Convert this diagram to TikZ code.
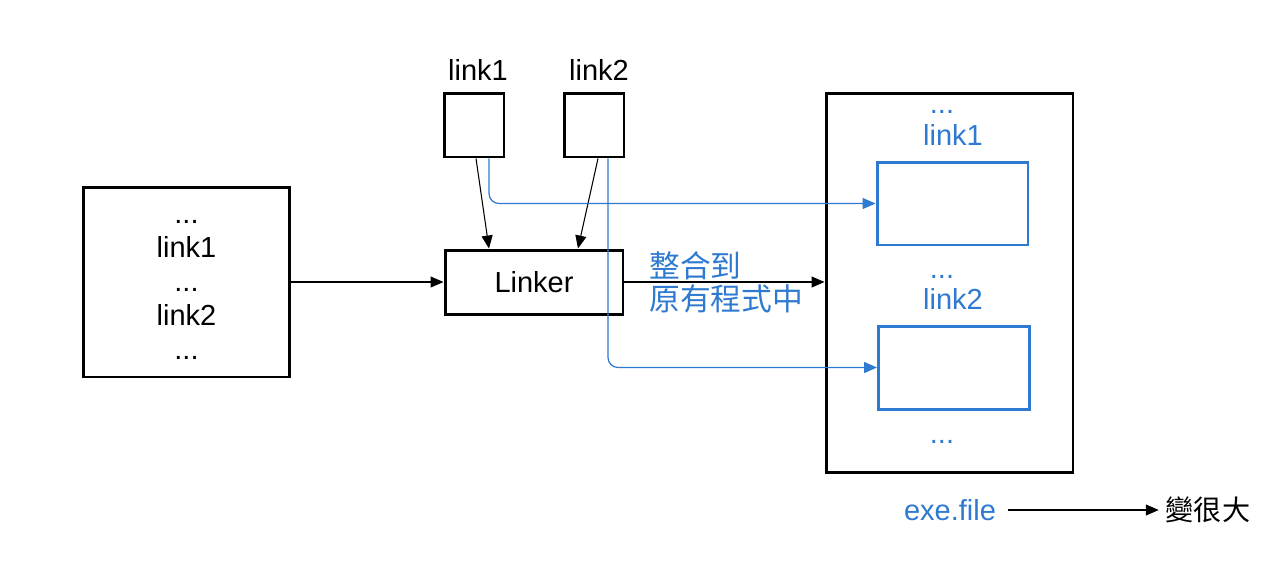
\documentclass[tikz,border=0pt]{standalone}
\usepackage{fontspec}
\setmainfont{Liberation Sans}
\newfontfamily\cjk{Noto Sans CJK TC}
\usepackage{tikz}
\usetikzlibrary{arrows.meta,positioning}
\definecolor{linkblue}{RGB}{46,122,208}
\tikzset{
  box/.style={draw, line width=1.7pt, inner sep=0pt},
  bluebox/.style={draw=linkblue, line width=1.7pt, minimum width=3.02cm, minimum height=1.66cm},
  txt/.style={font=\fontsize{16.5}{19.3}\selectfont, inner sep=1pt},
  bluetxt/.style={txt, text=linkblue},
  conn/.style={->, line width=0.6pt},
  blueconn/.style={->, linkblue, line width=0.7pt, rounded corners=0.2cm}
}
\begin{document}
\begin{tikzpicture}[x=0.02cm, y=-0.02cm, >={Triangle[length=0.26cm,width=0.22cm]}]
  \useasboundingbox (0,0) rectangle (1266,566);
  \node[box, minimum width=4.14cm, minimum height=3.8cm] (src) at (186.5,282) {};
  \node[txt, align=center] (srctxt) at (186.5,290) {...\\link1\\...\\link2\\...};
  \node[box, minimum width=1.2cm, minimum height=1.28cm] (L1) at (474,125) {};
  \node[box, minimum width=1.2cm, minimum height=1.28cm] (L2) at (594,125) {};
  \node[txt] (L1lbl) at (478,70) {link1};
  \node[txt] (L2lbl) at (599,70) {link2};
  \node[box, txt, minimum width=3.56cm, minimum height=1.28cm] (linker) at (534,282) {Linker};
  \node[box, minimum width=4.94cm, minimum height=7.6cm] (exe) at (949.5,283) {};
  \node[bluebox] (B1) at (952.5,203.5) {};
  \node[bluebox] (B2) at (954,367.5) {};
  \node[bluetxt] (d1) at (942,112) {...};
  \node[bluetxt] (n1) at (953,135) {link1};
  \node[bluetxt] (d2) at (942,277) {...};
  \node[bluetxt] (n2) at (953,299) {link2};
  \node[bluetxt] (d3) at (942,442) {...};
  \node[anchor=west, align=left, text=linkblue, inner sep=0pt,
    font=\cjk\fontsize{17.5}{18.8}\selectfont] (merge) at (649,282) {整合到\\原有程式中};
  \node[bluetxt] (file) at (950,510) {exe.file};
  \node[txt, font=\cjk\fontsize{16}{19}\selectfont] (big) at (1208,510) {變很大};

  \draw[conn] (src.east) -- (linker.west);
  \draw[conn] ([xshift=0.04cm]L1.south) -- ([xshift=-0.9cm]linker.north);
  \draw[conn] ([xshift=0.08cm]L2.south) -- ([xshift=0.88cm]linker.north);
  \draw[conn] (linker.east) -- (exe.west |- linker.east);
  \draw[blueconn] ([xshift=0.3cm]L1.south) |- (B1.west);
  \draw[blueconn] ([xshift=0.28cm]L2.south) |- (B2.west);
  \draw[conn] ([xshift=0.2cm]file.east) -- ([xshift=-0.1cm]big.west);
\end{tikzpicture}
\end{document}
